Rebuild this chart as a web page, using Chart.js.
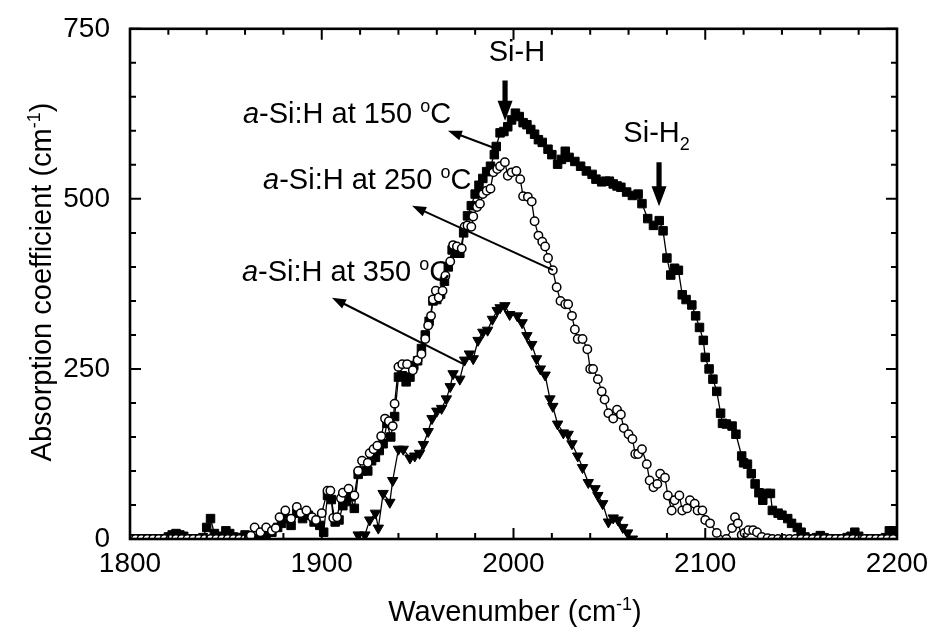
<!DOCTYPE html>
<html>
<head>
<meta charset="utf-8">
<script src="https://cdn.jsdelivr.net/npm/chart.js@4.4.0/dist/chart.umd.min.js"></script>
<style>
  html, body { margin: 0; padding: 0; background: #fff; }
  #wrap { width: 932px; height: 642px; }
</style>
</head>
<body>
<div id="wrap"><canvas id="ftir" width="932" height="642"></canvas></div>
<script>
// a-Si:H deposited at 150 °C (filled squares)
const wn150 = [1800, 1802, 1804, 1806, 1808, 1810, 1812, 1814, 1816, 1818, 1820, 1822, 1824, 1826, 1828, 1830, 1832, 1834, 1836, 1838,
  1840, 1842, 1844, 1846, 1848, 1850, 1852, 1854, 1856, 1858, 1860, 1862, 1864, 1866, 1868,
  1871, 1874, 1877, 1879, 1881, 1884, 1887, 1890, 1893, 1896, 1899, 1901, 1903, 1905, 1907, 1909, 1911, 1913, 1915, 1917,
  1919, 1921, 1924, 1926, 1928, 1930, 1932, 1934, 1936, 1938, 1940, 1942, 1944, 1946, 1948, 1950, 1952, 1954, 1956, 1958,
  1960, 1962, 1964, 1966, 1968, 1970, 1972, 1974, 1976, 1978, 1980, 1982, 1984, 1986, 1988, 1990, 1991, 1993, 1995, 1997,
  1999, 2001, 2003, 2005, 2007, 2009, 2011, 2013, 2015, 2018, 2020, 2023, 2025, 2027, 2029, 2032, 2035, 2038, 2041, 2043,
  2046, 2048, 2050, 2052, 2054, 2056, 2059, 2062, 2065, 2067, 2070, 2073, 2076, 2078, 2080, 2082, 2084, 2086, 2088, 2090,
  2093, 2095, 2097, 2099, 2100, 2102, 2104, 2106, 2108, 2109, 2111, 2114, 2116, 2119, 2120, 2122, 2124, 2126, 2128, 2130,
  2132, 2134, 2135, 2138, 2140, 2143, 2145, 2148, 2150, 2152, 2154, 2156, 2158, 2160, 2162, 2164, 2166, 2168, 2170, 2172,
  2174, 2176, 2178, 2180, 2182, 2184, 2186, 2188, 2190, 2192, 2194, 2196, 2198, 2200];
const abs150 = [0, 0, 0, 0, 0, 0, 0, 0, 0, 0, 3, 6, 8, 6, 4, 0, 0, 0, 0, 2,
  17, 30, 8, 2, 4, 12, 8, 3, 2, 2, 6, 3, 0, 0, 2,
  5, 10, 17, 23, 30, 20, 38, 30, 35, 25, 20, 10, 64, 58, 25, 28, 49, 55, 62, 45,
  95, 100, 100, 115, 120, 130, 140, 170, 150, 180, 238, 240, 231, 238, 255, 262, 280, 300, 320, 350,
  352, 360, 379, 400, 425, 420, 420, 450, 475, 490, 507, 520, 530, 540, 548, 565, 577, 597, 599, 606,
  616, 626, 621, 612, 609, 602, 595, 587, 583, 573, 565, 551, 558, 570, 561, 555, 548, 541, 536, 529,
  525, 526, 526, 522, 519, 517, 510, 505, 507, 493, 471, 461, 468, 453, 413, 388, 398, 395, 359, 352,
  344, 328, 311, 292, 267, 250, 235, 217, 185, 170, 169, 166, 154, 122, 112, 110, 96, 81, 68, 57,
  67, 67, 42, 38, 35, 30, 23, 17, 10, 3, 0, 0, 2, 5, 2, 0, 0, 0, 0, 0,
  2, 4, 10, 4, 0, 0, 0, 0, 0, 0, 2, 12, 12, 10];

// a-Si:H deposited at 250 °C (open circles)
const wn250 = [1800, 1803, 1806, 1809, 1812, 1815, 1818, 1821, 1824, 1827, 1830, 1833, 1836, 1839, 1842, 1845, 1848, 1851, 1854, 1857, 1860,
  1863, 1865, 1868, 1871, 1874, 1876, 1878, 1881, 1884, 1887, 1889, 1892, 1895, 1897, 1900, 1903, 1904.5, 1906, 1908, 1910,
  1911, 1914, 1917, 1919, 1921, 1924, 1925, 1927, 1929, 1931, 1933, 1935, 1937, 1938, 1940, 1942, 1944.5, 1947.5, 1950, 1952,
  1954, 1955.5, 1957, 1958, 1959.5, 1961, 1963, 1964.5, 1967, 1968.5, 1970.5, 1973, 1974.5, 1976, 1978, 1979, 1981, 1982.5, 1984, 1986,
  1988, 1989.5, 1991.5, 1993, 1995.5, 1997, 1999, 2001.5, 2003.5, 2005, 2007.5, 2009.5, 2011, 2013, 2015, 2016.5, 2018, 2020.5, 2022.5, 2024.5,
  2027, 2028.5, 2030.5, 2032, 2033.5, 2036, 2038.5, 2040, 2041.5, 2044, 2046, 2047.5, 2049.5, 2052, 2054, 2056, 2057.5, 2060, 2062, 2063.5,
  2065, 2067, 2069.5, 2071, 2073, 2075, 2076.5, 2079, 2080.5, 2082.5, 2084, 2086.5, 2088, 2090.5, 2092, 2094.5, 2096, 2098.5, 2100, 2102.5,
  2106, 2111, 2114, 2115.5, 2117, 2119, 2120.5, 2122.5, 2125, 2127, 2129.5, 2132.5, 2135, 2138, 2141, 2144, 2147, 2150, 2153, 2156,
  2159, 2162, 2165, 2168, 2171, 2174, 2177, 2180, 2183, 2186, 2189, 2192, 2195, 2198];
const abs250 = [0, 0, 0, 0, 0, 0, 0, 0, 0, 0, 0, 0, 0, 0, 0, 0, 0, 0, 0, 0, 0,
  5, 17, 10, 17, 12, 16, 32, 42, 30, 47, 38, 42, 32, 28, 38, 71, 71, 31, 32, 60,
  68, 74, 64, 100, 115, 112, 126, 132, 137, 151, 177, 173, 166, 199, 253, 257, 257, 248, 263, 272,
  294, 314, 328, 352, 365, 355, 365, 387, 408, 432, 430, 427, 459, 461, 459, 474, 488, 493, 507, 512,
  515, 539, 544, 548, 554, 534, 539, 541, 529, 504, 503, 496, 467, 446, 437, 430, 413, 395, 370, 350,
  345, 345, 328, 308, 294, 294, 279, 250, 250, 235, 217, 205, 185, 177, 190, 183, 163, 154, 147, 125,
  125, 132, 110, 86, 76, 81, 96, 90, 64, 42, 57, 64, 42, 45, 57, 52, 42, 42, 28, 23,
  9, 0, 16, 32, 23, 6, 9, 13, 13, 10, 3, 1, 0, 0, 0, 0, 0, 0, 0, 0,
  0, 0, 0, 0, 0, 0, 0, 0, 0, 0, 0, 0, 0, 0];

// a-Si:H deposited at 350 °C (filled down triangles)
const wn350 = [1919, 1922.5, 1925, 1928, 1929.5, 1932, 1935.5, 1937, 1940, 1942.5, 1946, 1948.5, 1951, 1953, 1955.5, 1957.5, 1960, 1962.5, 1965, 1967,
  1968.5, 1972, 1974.5, 1977, 1979, 1981.5, 1984, 1986.5, 1989, 1991.5, 1993, 1995.5, 1998, 2002, 2004.5, 2007, 2009.5, 2012, 2014, 2016.5,
  2019, 2020.5, 2023, 2026, 2028.5, 2030.5, 2033.5, 2036, 2039, 2042.5, 2044, 2046.5, 2049.5, 2052, 2054.5, 2057, 2059.5, 2062];
const abs350 = [6, 6, 28, 38, 16, 67, 54, 86, 132, 132, 119, 122, 126, 139, 158, 177, 188, 192, 206, 224,
  243, 235, 263, 272, 265, 292, 304, 307, 323, 336, 340, 343, 330, 328, 318, 299, 286, 265, 250, 241,
  206, 195, 169, 156, 154, 140, 122, 105, 83, 74, 64, 52, 25, 31, 28, 17, 9, 0];

// axis ranges and tick spacing
const xRange = [1800, 2200];
const yRange = [0, 750];
const xMajor = 100, xMinor = 20;
const yMajor = 250, yMinor = 50;

const FONT = "'Liberation Sans', Arial, Helvetica, sans-serif";

// annotations, placed in data units
const sampleLabels = [
  { temp: '150', x: 1858.9, y: 626, from: [1989.3, 575.6], to: [1965.8, 600.3] },
  { temp: '250', x: 1869.4, y: 529, from: [2020.6, 395.3], to: [1947.1, 489.8] },
  { temp: '350', x: 1858.4, y: 394, from: [1973.7, 257.3], to: [1905.3, 354.7] }
];
const bondLabels = [
  { parts: [{ t: 'Si-H' }], x: 2001.8, y: 718, arrowX: 1995.6, top: 674, tip: 615 },
  { parts: [{ t: 'Si-H' }, { t: '2', sub: true }], x: 2074.6, y: 599, arrowX: 2075.9, top: 554, tip: 489 }
];

function toPoints(xs, ys) {
  return xs.map((x, i) => ({ x: x, y: ys[i] }));
}

function richText(ctx, parts, x, yMid, size, align) {
  const fontOf = p => (p.italic ? 'italic ' : '') + Math.round((p.sup || p.sub) ? size * 0.62 : size) + 'px ' + FONT;
  let w = 0;
  parts.forEach(p => { ctx.font = fontOf(p); w += ctx.measureText(p.t).width; });
  let cx = align === 'center' ? x - w / 2 : x;
  const base = yMid + size * 0.36;
  ctx.textAlign = 'left';
  ctx.textBaseline = 'alphabetic';
  parts.forEach(p => {
    ctx.font = fontOf(p);
    const dy = p.sup ? -size * 0.4 : (p.sub ? size * 0.3 : 0);
    ctx.fillText(p.t, cx, base + dy);
    cx += ctx.measureText(p.t).width;
  });
}

function thinArrow(ctx, x0, y0, x1, y1) {
  const ang = Math.atan2(y1 - y0, x1 - x0);
  const head = 14, half = 5;
  ctx.lineWidth = 2;
  ctx.beginPath();
  ctx.moveTo(x0, y0);
  ctx.lineTo(x1 - Math.cos(ang) * head * 0.8, y1 - Math.sin(ang) * head * 0.8);
  ctx.stroke();
  ctx.beginPath();
  ctx.moveTo(x1, y1);
  ctx.lineTo(x1 - Math.cos(ang) * head - Math.sin(ang) * half, y1 - Math.sin(ang) * head + Math.cos(ang) * half);
  ctx.lineTo(x1 - Math.cos(ang) * head + Math.sin(ang) * half, y1 - Math.sin(ang) * head - Math.cos(ang) * half);
  ctx.closePath();
  ctx.fill();
}

function fatDownArrow(ctx, x, yTop, yTip) {
  const headLen = 20, headHalf = 7.5, shaftHalf = 2.6;
  ctx.beginPath();
  ctx.moveTo(x - shaftHalf, yTop);
  ctx.lineTo(x + shaftHalf, yTop);
  ctx.lineTo(x + shaftHalf, yTip - headLen);
  ctx.lineTo(x + headHalf, yTip - headLen);
  ctx.lineTo(x, yTip);
  ctx.lineTo(x - headHalf, yTip - headLen);
  ctx.lineTo(x - shaftHalf, yTip - headLen);
  ctx.closePath();
  ctx.fill();
}

// frame, inward ticks on all sides, axis titles and annotations
const decor = {
  id: 'decor',
  afterDraw(chart) {
    const { ctx, chartArea: a } = chart;
    const xs = chart.scales.x, ys = chart.scales.y;
    ctx.save();
    ctx.strokeStyle = '#000';
    ctx.fillStyle = '#000';

    ctx.lineWidth = 2;
    ctx.beginPath();
    for (let v = xRange[0]; v <= xRange[1]; v += xMinor) {
      const px = xs.getPixelForValue(v);
      const len = (v % xMajor === 0) ? 11 : 6;
      ctx.moveTo(px, a.bottom); ctx.lineTo(px, a.bottom - len);
      ctx.moveTo(px, a.top); ctx.lineTo(px, a.top + len);
    }
    for (let v = yRange[0]; v <= yRange[1]; v += yMinor) {
      const py = ys.getPixelForValue(v);
      const len = (v % yMajor === 0) ? 11 : 6;
      ctx.moveTo(a.left, py); ctx.lineTo(a.left + len, py);
      ctx.moveTo(a.right, py); ctx.lineTo(a.right - len, py);
    }
    ctx.stroke();

    ctx.lineWidth = 2.6;
    ctx.strokeRect(a.left, a.top, a.right - a.left, a.bottom - a.top);

    // axis titles
    richText(ctx, [{ t: 'Wavenumber (cm' }, { t: '-1', sup: true }, { t: ')' }], 515, 611, 29, 'center');
    ctx.save();
    ctx.translate(41, 282);
    ctx.rotate(-Math.PI / 2);
    richText(ctx, [{ t: 'Absorption coefficient (cm' }, { t: '-1', sup: true }, { t: ')' }], 0, 0, 29, 'center');
    ctx.restore();

    // sample labels with arrows
    sampleLabels.forEach(s => {
      richText(ctx, [{ t: 'a', italic: true }, { t: '-Si:H at ' + s.temp + ' ' }, { t: 'o', sup: true }, { t: 'C' }],
        xs.getPixelForValue(s.x), ys.getPixelForValue(s.y), 28.5, 'left');
      thinArrow(ctx, xs.getPixelForValue(s.from[0]), ys.getPixelForValue(s.from[1]),
        xs.getPixelForValue(s.to[0]), ys.getPixelForValue(s.to[1]));
    });

    // bond labels with bold arrows
    bondLabels.forEach(b => {
      richText(ctx, b.parts, xs.getPixelForValue(b.x), ys.getPixelForValue(b.y), 28.5, 'center');
      fatDownArrow(ctx, xs.getPixelForValue(b.arrowX), ys.getPixelForValue(b.top), ys.getPixelForValue(b.tip));
    });
    ctx.restore();
  }
};

new Chart(document.getElementById('ftir'), {
  type: 'line',
  data: {
    datasets: [{
      label: '250 °C',
      data: toPoints(wn250, abs250),
      order: 0,
      borderColor: '#000',
      borderWidth: 1.3,
      pointStyle: 'circle',
      pointRadius: 4.2,
      pointBorderWidth: 1.5,
      pointBackgroundColor: '#fff',
      pointBorderColor: '#000'
    }, {
      label: '150 °C',
      data: toPoints(wn150, abs150),
      order: 1,
      borderColor: '#000',
      borderWidth: 1.3,
      pointStyle: 'rect',
      pointRadius: 6,
      pointBorderWidth: 1,
      pointBackgroundColor: '#000',
      pointBorderColor: '#000'
    }, {
      label: '350 °C',
      data: toPoints(wn350, abs350),
      order: 2,
      borderColor: '#000',
      borderWidth: 1.3,
      pointStyle: 'triangle',
      pointRotation: 180,
      pointRadius: 6,
      pointBorderWidth: 1,
      pointBackgroundColor: '#000',
      pointBorderColor: '#000'
    }]
  },
  options: {
    responsive: false,
    animation: false,
    events: [],
    layout: { padding: { left: 0, right: 35, top: 23, bottom: 0 } },
    plugins: {
      legend: { display: false },
      tooltip: { enabled: false }
    },
    scales: {
      x: {
        type: 'linear',
        min: xRange[0],
        max: xRange[1],
        grid: { display: false },
        border: { display: false },
        ticks: {
          stepSize: xMajor,
          color: '#000',
          padding: 0,
          maxRotation: 0,
          font: { family: FONT, size: 28 },
          callback: v => String(v)
        },
        afterFit: s => { s.height = 103; }
      },
      y: {
        type: 'linear',
        min: yRange[0],
        max: yRange[1],
        grid: { display: false },
        border: { display: false },
        ticks: {
          stepSize: yMajor,
          color: '#000',
          padding: 12,
          font: { family: FONT, size: 28 },
          callback: v => String(v)
        },
        afterFit: s => { s.width = 130; }
      }
    }
  },
  plugins: [decor]
});
</script>
</body>
</html>
